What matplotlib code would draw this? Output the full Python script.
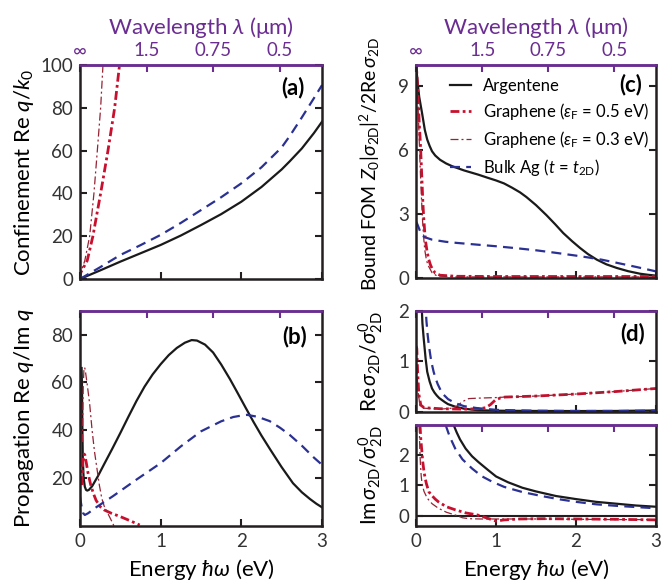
import matplotlib
matplotlib.use('Agg')
import matplotlib.pyplot as plt

FONT = 'Lato'
plt.rcParams['font.family'] = [FONT, 'DejaVu Sans']
plt.rcParams['mathtext.fontset'] = 'custom'
plt.rcParams['mathtext.rm'] = FONT
plt.rcParams['mathtext.it'] = FONT + ':italic'
plt.rcParams['mathtext.bf'] = FONT + ':bold'

# top axis: wavelength ticks (um) -> photon energy (eV)
wl_ticks = [float('inf'), 1.5, 0.75, 0.5]
wl_labels = ['∞', '1.5', '0.75', '0.5']
hc = 1.23984

# (a) confinement Re q/k0
e_a = [0, 0.25, 0.5, 0.75, 1.0, 1.25, 1.5, 1.75, 2.0, 2.25, 2.5, 2.6, 2.75, 2.9, 3.0]
a_arg = [0, 4.0, 8.1, 12.0, 15.9, 20.3, 25.2, 30.3, 36.1, 43.0, 51.2, 55.0, 61.0, 68.2, 73.5]
a_bulk = [0, 5.5, 11.2, 15.8, 20.6, 26.2, 32.2, 38.2, 44.7, 52.2, 61.5, 66.8, 75.5, 84.5, 90.6]
e_a_g5 = [0, 0.01, 0.09, 0.16, 0.256, 0.347, 0.43, 0.49]
a_g5 = [0, 3, 8.6, 20, 40, 60, 80, 100]
e_a_g3 = [0, 0.01, 0.06, 0.12, 0.173, 0.215, 0.256, 0.285]
a_g3 = [0, 3, 8.6, 20, 40, 60, 80, 100]

# (b) propagation Re q / Im q
e_b_arg = [0.02, 0.025, 0.03, 0.035, 0.045, 0.06, 0.075, 0.09, 0.11, 0.15, 0.22, 0.3, 0.4,
           0.5, 0.6, 0.7, 0.8, 0.9, 1.0, 1.1, 1.2, 1.3, 1.384, 1.45, 1.55, 1.65, 1.75,
           1.86, 1.95, 2.05, 2.15, 2.25, 2.36, 2.5, 2.64, 2.75, 2.85, 2.93, 3.0]
b_arg = [66, 58, 40, 28, 20, 16.3, 15, 14.7, 15, 16.5, 20.6, 25.8, 32.2,
         38.8, 45.6, 52.2, 58.2, 63.3, 67.6, 71.4, 74.4, 76.6, 77.7, 77.5, 75.8, 72.5, 67.5,
         61.3, 55.8, 49.6, 43.5, 37.7, 31.8, 24.5, 17.8, 14.0, 11.2, 9.2, 7.7]
e_b_bulk = [0.0, 0.01, 0.02, 0.04, 0.06, 0.1, 0.2, 0.41, 0.7, 1.0, 1.25, 1.5, 1.75, 1.9,
            2.0, 2.07, 2.2, 2.35, 2.48, 2.6, 2.75, 2.9, 3.0]
b_bulk = [12.2, 10, 8, 5.2, 4.5, 5.2, 7.7, 12.4, 19.3, 26.2, 33.2, 39.5, 43.7, 45.5,
          46.1, 46.4, 45.6, 43.8, 41, 38, 33.5, 28.5, 25.5]
e_b_g5 = [0.025, 0.035, 0.05, 0.06, 0.08, 0.1, 0.13, 0.165, 0.2, 0.25, 0.3, 0.39, 0.5, 0.62, 0.74]
b_g5 = [17, 27, 30, 29.7, 26, 22, 17.5, 13.6, 10.6, 8, 6.6, 5.2, 3.8, 2.1, 0.3]
e_b_g3 = [0.03, 0.04, 0.05, 0.06, 0.07, 0.09, 0.12, 0.15, 0.18, 0.21, 0.24, 0.27, 0.3, 0.34, 0.38, 0.42]
b_g3 = [35, 58, 66.2, 66, 64, 59, 51, 40, 31, 24, 17, 11.5, 8.2, 5.5, 2.8, 0]

# (c) bound figure of merit
e_c_arg = [0, 0.01, 0.025, 0.04, 0.075, 0.11, 0.14, 0.17, 0.2, 0.24, 0.3, 0.375, 0.45, 0.6,
           0.78, 0.9, 1.0, 1.1, 1.2, 1.3, 1.38, 1.5, 1.63, 1.74, 1.84, 1.95, 2.05, 2.15,
           2.26, 2.38, 2.51, 2.65, 2.8, 2.9, 3.0]
c_arg = [10.3, 9.6, 9.0, 8.5, 7.75, 6.95, 6.5, 6.2, 5.95, 5.75, 5.55, 5.38, 5.25, 5.05,
         4.85, 4.7, 4.58, 4.44, 4.24, 4.02, 3.8, 3.42, 2.95, 2.52, 2.11, 1.73, 1.41, 1.12,
         0.86, 0.64, 0.47, 0.32, 0.2, 0.15, 0.11]
e_c_bulk = [0, 0.01, 0.025, 0.04, 0.055, 0.07, 0.09, 0.12, 0.2, 0.37, 0.5, 0.75, 1.0, 1.25,
            1.5, 1.75, 2.0, 2.16, 2.32, 2.5, 2.75, 3.0]
c_bulk = [2.65, 2.58, 2.45, 2.3, 2.15, 2.05, 1.96, 1.9, 1.8, 1.7, 1.65, 1.57, 1.49, 1.4,
          1.3, 1.18, 1.05, 0.96, 0.86, 0.72, 0.52, 0.31]
e_c_g5 = [0, 0.01, 0.02, 0.03, 0.04, 0.055, 0.065, 0.075, 0.085, 0.095, 0.11, 0.12, 0.14,
          0.16, 0.18, 0.2, 0.24, 0.3, 0.5, 1.0, 2.0, 3.0]
c_g5 = [10.3, 9.6, 8.9, 8.2, 7.3, 6.3, 5.4, 4.5, 3.6, 2.9, 2.1, 1.7, 1.2, 0.86, 0.62, 0.45,
        0.23, 0.13, 0.08, 0.07, 0.07, 0.07]
e_c_g3 = [0, 0.01, 0.02, 0.03, 0.04, 0.05, 0.06, 0.07, 0.08, 0.09, 0.1, 0.11, 0.13, 0.15,
          0.2, 0.26, 0.5, 3.0]
c_g3 = [10.3, 9.3, 8.5, 7.6, 6.5, 5.4, 4.4, 3.6, 2.8, 2.2, 1.7, 1.3, 0.85, 0.6, 0.25, 0.1,
        0.05, 0.05]

# (d) Re sigma_2D / sigma_2D^0
e_dr_arg = [0.068, 0.08, 0.096, 0.12, 0.14, 0.17, 0.2, 0.23, 0.26, 0.29, 0.325, 0.36, 0.4,
            0.49, 0.6, 0.77, 1.0, 1.5, 2.0, 2.5, 3.0]
dr_arg = [2.2, 1.75, 1.45, 1.05, 0.79, 0.6, 0.46, 0.38, 0.32, 0.27, 0.23, 0.19, 0.15,
          0.1, 0.06, 0.03, 0.02, 0.015, 0.013, 0.015, 0.025]
e_dr_bulk = [0.115, 0.13, 0.145, 0.16, 0.19, 0.22, 0.245, 0.27, 0.3, 0.33, 0.4, 0.49, 0.6,
             0.77, 1.02, 1.5, 2.0, 2.5, 3.0]
dr_bulk = [2.2, 1.8, 1.53, 1.32, 1.0, 0.79, 0.66, 0.55, 0.45, 0.36, 0.25, 0.17, 0.11,
           0.07, 0.035, 0.02, 0.015, 0.015, 0.02]
e_dr_g5 = [0.0, 0.01, 0.02, 0.035, 0.06, 0.1, 0.3, 0.6, 0.8, 0.87, 0.93, 0.99, 1.05,
           1.11, 1.5, 2.0, 2.5, 3.0]
dr_g5 = [1.3, 1.25, 0.8, 0.35, 0.13, 0.08, 0.06, 0.05, 0.06, 0.08, 0.14, 0.23, 0.27,
         0.29, 0.31, 0.35, 0.4, 0.46]
e_dr_g3 = [0.0, 0.01, 0.025, 0.05, 0.1, 0.3, 0.45, 0.52, 0.58, 0.66, 0.8, 1.0, 1.11,
           1.5, 2.0, 2.5, 3.0]
dr_g3 = [1.0, 0.9, 0.4, 0.12, 0.07, 0.05, 0.07, 0.12, 0.2, 0.26, 0.27, 0.28, 0.29,
         0.31, 0.35, 0.4, 0.46]

# (d) Im sigma_2D / sigma_2D^0
e_di_arg = [0.47, 0.51, 0.55, 0.62, 0.7, 0.78, 0.9, 1.0, 1.15, 1.33, 1.5, 1.75, 2.0, 2.25,
            2.5, 2.75, 3.0]
di_arg = [2.97, 2.72, 2.5, 2.2, 1.95, 1.76, 1.5, 1.29, 1.1, 0.92, 0.8, 0.65, 0.55, 0.46,
          0.4, 0.34, 0.3]
e_di_bulk = [0.37, 0.42, 0.49, 0.58, 0.7, 0.82, 0.95, 1.1, 1.33, 1.57, 1.8, 2.0, 2.25,
             2.5, 2.75, 3.0]
di_bulk = [2.97, 2.6, 2.2, 1.85, 1.55, 1.3, 1.12, 0.95, 0.78, 0.65, 0.54, 0.46, 0.38,
           0.33, 0.29, 0.25]
e_di_g5 = [0.05, 0.06, 0.07, 0.085, 0.1, 0.115, 0.13, 0.16, 0.2, 0.24, 0.28, 0.38, 0.49,
           0.62, 0.77, 0.9, 1.0, 1.1, 1.3, 1.6, 2.0, 2.5, 3.0]
di_g5 = [2.97, 2.5, 2.2, 1.75, 1.44, 1.22, 1.05, 0.79, 0.66, 0.55, 0.46, 0.3, 0.2,
         0.1, 0.03, -0.08, -0.17, -0.13, -0.1, -0.09, -0.1, -0.11, -0.13]
e_di_g3 = [0.04, 0.047, 0.055, 0.065, 0.075, 0.1, 0.14, 0.2, 0.28, 0.38, 0.49, 0.58, 0.66,
           0.8, 1.0, 1.5, 2.0, 2.5, 3.0]
di_g3 = [2.97, 2.2, 1.7, 1.3, 1.05, 0.8, 0.58, 0.4, 0.25, 0.12, 0.03, -0.06, -0.09,
         -0.1, -0.1, -0.1, -0.11, -0.12, -0.12]

PURPLE = '#6b2d91'
DARK = '#231f20'
sty_arg = dict(color='#1a1a1a', lw=1.6, ls='-')
sty_g5 = dict(color='#c8102e', lw=2.0, ls=(0, (3.2, 1.2, 1.0, 1.2)))
sty_g3 = dict(color='#962233', lw=0.9, ls=(0, (6.4, 2.4, 1.6, 2.4)))
sty_bulk = dict(color='#2b3192', lw=1.6, ls=(0, (4.5, 2.8)))

LABEL_FS = 16
TICK_FS = 13.5

fig = plt.figure(figsize=(6.71, 5.84), dpi=100)
ax_a = fig.add_axes([0.1192, 0.5223, 0.3607, 0.3664])
ax_b = fig.add_axes([0.1192, 0.0998, 0.3607, 0.3682])
ax_c = fig.add_axes([0.620, 0.524, 0.3577, 0.3647])
ax_dr = fig.add_axes([0.620, 0.295, 0.3577, 0.173])
ax_di = fig.add_axes([0.620, 0.0998, 0.3577, 0.1724])

wl_energy = [0 if w == float('inf') else hc / w for w in wl_ticks]


def style(ax, top_labels, bottom_labels):
    ax.set_xlim(0, 3)
    for s in ['left', 'right', 'bottom']:
        ax.spines[s].set_linewidth(1.8)
        ax.spines[s].set_color(DARK)
    ax.spines['top'].set_linewidth(1.8)
    ax.spines['top'].set_color(PURPLE)
    ax.set_xticks([0, 1, 2, 3])
    ax.tick_params(direction='in', length=5, width=1.5, color=DARK, right=True, top=False,
                   labelsize=TICK_FS, labelcolor='#333333', labelbottom=bottom_labels, pad=5)
    sec = ax.secondary_xaxis('top')
    sec.set_xticks(wl_energy, labels=wl_labels)
    sec.spines['top'].set_color(PURPLE)
    sec.spines['top'].set_linewidth(1.8)
    sec.tick_params(direction='in', length=5, width=1.5, color=PURPLE, labelcolor=PURPLE,
                    labelsize=TICK_FS, labeltop=top_labels, pad=4)
    if top_labels:
        sec.set_xlabel(r'Wavelength $\lambda$ (μm)', color=PURPLE, fontsize=LABEL_FS, labelpad=6)
    if bottom_labels:
        ax.set_xlabel(r'Energy $\hbar\omega$ (eV)', fontsize=LABEL_FS, labelpad=5)


for ax, top, bot in [(ax_a, True, False), (ax_b, False, True), (ax_c, True, False),
                     (ax_dr, False, False), (ax_di, False, True)]:
    style(ax, top, bot)

# (a)
ax_a.plot(e_a, a_arg, **sty_arg)
ax_a.plot(e_a_g5, a_g5, **sty_g5)
ax_a.plot(e_a_g3, a_g3, **sty_g3)
ax_a.plot(e_a, a_bulk, **sty_bulk)
ax_a.set_ylim(0, 100)
ax_a.set_yticks([0, 20, 40, 60, 80, 100])
ax_a.set_ylabel(r'Confinement Re $q/k_0$', fontsize=LABEL_FS)
ax_a.yaxis.set_label_coords(-0.18, 0.5)
ax_a.text(0.93, 0.893, '(a)', transform=ax_a.transAxes, ha='right', va='center',
          fontsize=LABEL_FS, fontweight='bold')

# (b)
ax_b.plot(e_b_arg, b_arg, **sty_arg)
ax_b.plot(e_b_g5, b_g5, **sty_g5)
ax_b.plot(e_b_g3, b_g3, **sty_g3)
ax_b.plot(e_b_bulk, b_bulk, **sty_bulk)
ax_b.set_ylim(0, 90)
ax_b.set_yticks([20, 40, 60, 80])
ax_b.set_ylabel(r'Propagation Re $q$/Im $q$', fontsize=LABEL_FS)
ax_b.yaxis.set_label_coords(-0.18, 0.5)
ax_b.text(0.94, 0.879, '(b)', transform=ax_b.transAxes, ha='right', va='center',
          fontsize=LABEL_FS, fontweight='bold')

# (c)
ax_c.plot(e_c_arg, c_arg, label='Argentene', **sty_arg)
ax_c.plot(e_c_g5, c_g5, label=r'Graphene ($\varepsilon_{\mathrm{F}}$ = 0.5 eV)', **sty_g5)
ax_c.plot(e_c_g3, c_g3, label=r'Graphene ($\varepsilon_{\mathrm{F}}$ = 0.3 eV)', **sty_g3)
ax_c.plot(e_c_bulk, c_bulk, label=r'Bulk Ag ($t$ = $t_{\mathrm{2D}}$)', **sty_bulk)
ax_c.set_ylim(0, 10)
ax_c.set_yticks([0, 3, 6, 9])
ax_c.set_ylabel(r'Bound FOM $Z_0|\sigma_{\mathrm{2D}}|^2/2\mathrm{Re}\,\sigma_{\mathrm{2D}}$',
                fontsize=14)
ax_c.yaxis.set_label_coords(-0.14, 0.535)
ax_c.text(0.94, 0.907, '(c)', transform=ax_c.transAxes, ha='right', va='center',
          fontsize=LABEL_FS, fontweight='bold')
ax_c.legend(loc='upper left', bbox_to_anchor=(0.142, 0.94), frameon=False, fontsize=12,
            handlelength=1.25, handletextpad=0.75, labelspacing=0.42, borderpad=0,
            borderaxespad=0)

# (d)
ax_dr.plot(e_dr_arg, dr_arg, **sty_arg)
ax_dr.plot(e_dr_g5, dr_g5, **sty_g5)
ax_dr.plot(e_dr_g3, dr_g3, **sty_g3)
ax_dr.plot(e_dr_bulk, dr_bulk, **sty_bulk)
ax_dr.set_ylim(0, 2)
ax_dr.set_yticks([0, 1, 2])
ax_dr.set_ylabel(r'Re$\,\sigma_{\mathrm{2D}}/\sigma^0_{\mathrm{2D}}$', fontsize=15)
ax_dr.yaxis.set_label_coords(-0.13, 0.5)
ax_dr.text(0.954, 0.776, '(d)', transform=ax_dr.transAxes, ha='right', va='center',
           fontsize=LABEL_FS, fontweight='bold')

ax_di.axhline(0, color=DARK, lw=1.5)
ax_di.plot(e_di_arg, di_arg, **sty_arg)
ax_di.plot(e_di_g5, di_g5, **sty_g5)
ax_di.plot(e_di_g3, di_g3, **sty_g3)
ax_di.plot(e_di_bulk, di_bulk, **sty_bulk)
ax_di.set_ylim(-0.32, 2.97)
ax_di.set_yticks([0, 1, 2])
ax_di.set_ylabel(r'Im$\,\sigma_{\mathrm{2D}}/\sigma^0_{\mathrm{2D}}$', fontsize=15)
ax_di.yaxis.set_label_coords(-0.13, 0.5)

fig.savefig('out.png', dpi=100)
